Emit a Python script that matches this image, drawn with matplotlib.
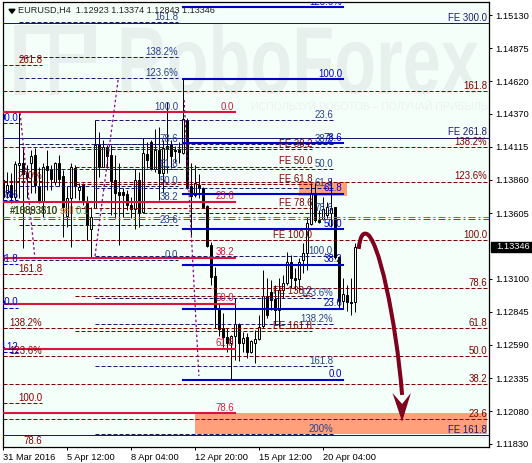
"""EURUSD H4 chart with Fibonacci levels, redrawn with matplotlib."""

import matplotlib

matplotlib.use("Agg")

import matplotlib.pyplot as plt
from matplotlib.font_manager import FontProperties
from matplotlib.patches import PathPatch, Polygon, Rectangle
from matplotlib.path import Path
from matplotlib.textpath import TextPath
from matplotlib.transforms import Affine2D, IdentityTransform


TITLE = "EURUSD,H4  1.12923 1.13374 1.12843 1.13346"

OPENS = [
    1.13860, 1.13767, 1.13821, 1.13729, 1.13975, 1.13991, 1.13914, 1.13991, 1.14052, 1.13814,
    1.13691, 1.13967, 1.13944, 1.13844, 1.13991, 1.13891, 1.13583, 1.13721, 1.13952, 1.13783,
    1.13821, 1.13698, 1.13483, 1.13644, 1.14137, 1.13960, 1.14106, 1.14052, 1.13860, 1.13767,
    1.13767, 1.13752, 1.13667, 1.13637, 1.13860, 1.13614, 1.14060, 1.14152, 1.13944, 1.14091,
    1.13914, 1.14106, 1.14129, 1.14091, 1.14091, 1.14068, 1.14322, 1.13814, 1.13744, 1.13821,
    1.13798, 1.13660, 1.13359, 1.13121, 1.12867, 1.12720, 1.12651, 1.12605, 1.12659, 1.12751,
    1.12605, 1.12651, 1.12536, 1.12605, 1.12636, 1.12736, 1.12967, 1.12998, 1.12944, 1.12859,
    1.13013, 1.13067, 1.13229, 1.13105, 1.13098, 1.13244, 1.13298, 1.13521, 1.13760, 1.13552,
    1.13560, 1.13590, 1.13606, 1.13652, 1.13267, 1.12928, 1.12975, 1.12921, 1.12923,
]
HIGHS = [
    1.13937, 1.13921, 1.13914, 1.14006, 1.14376, 1.14114, 1.13975, 1.14091, 1.14106, 1.13960,
    1.13991, 1.14091, 1.13975, 1.13998, 1.14052, 1.13937, 1.13814, 1.13991, 1.13975, 1.13837,
    1.13837, 1.13737, 1.13652, 1.14322, 1.14229, 1.14168, 1.14129, 1.14129, 1.14052, 1.13991,
    1.13798, 1.13783, 1.13729, 1.13944, 1.13921, 1.14183, 1.14152, 1.14168, 1.14252, 1.14268,
    1.14168, 1.14460, 1.14168, 1.14122, 1.14152, 1.14637, 1.14337, 1.13991, 1.13975, 1.13906,
    1.13806, 1.13667, 1.13383, 1.13190, 1.12913, 1.12836, 1.12720, 1.12667, 1.12952, 1.12759,
    1.12690, 1.12682, 1.12628, 1.12705, 1.12821, 1.13167, 1.13105, 1.13090, 1.13052, 1.13105,
    1.13128, 1.13306, 1.13283, 1.13182, 1.13259, 1.13375, 1.13575, 1.13837, 1.13837, 1.13629,
    1.13729, 1.13691, 1.13875, 1.13652, 1.13275, 1.13105, 1.13052, 1.13105, 1.13374,
]
LOWS = [
    1.13706, 1.13721, 1.13683, 1.13706, 1.13721, 1.13336, 1.13721, 1.13760, 1.13760, 1.13683,
    1.13575, 1.13783, 1.13783, 1.13821, 1.13814, 1.13421, 1.13498, 1.13344, 1.13721, 1.13706,
    1.13667, 1.13398, 1.13259, 1.13644, 1.13883, 1.13960, 1.13952, 1.13590, 1.13567, 1.13359,
    1.13575, 1.13629, 1.13567, 1.13483, 1.13498, 1.13606, 1.13952, 1.13937, 1.13921, 1.13706,
    1.13760, 1.13914, 1.13952, 1.13991, 1.13991, 1.14060, 1.13791, 1.13421, 1.13729, 1.13721,
    1.13644, 1.13344, 1.13052, 1.12720, 1.12659, 1.12574, 1.12536, 1.12320, 1.12474, 1.12466,
    1.12536, 1.12490, 1.12528, 1.12451, 1.12628, 1.12720, 1.12797, 1.12859, 1.12743, 1.12728,
    1.12952, 1.13052, 1.13028, 1.13013, 1.13013, 1.13144, 1.13167, 1.13513, 1.13537, 1.13529,
    1.13552, 1.13567, 1.13498, 1.13252, 1.12874, 1.12874, 1.12851, 1.12821, 1.12843,
]
CLOSES = [
    1.13729, 1.13821, 1.13729, 1.13983, 1.13991, 1.13906, 1.13883, 1.14045, 1.13821, 1.13691,
    1.13960, 1.13937, 1.13868, 1.13991, 1.13868, 1.13652, 1.13721, 1.13960, 1.13814, 1.13806,
    1.13706, 1.13513, 1.13575, 1.14129, 1.13960, 1.14114, 1.14045, 1.13852, 1.13760, 1.13744,
    1.13744, 1.13667, 1.13637, 1.13860, 1.13614, 1.14068, 1.14014, 1.13944, 1.14091, 1.13914,
    1.14106, 1.14122, 1.14045, 1.14083, 1.14075, 1.14329, 1.13806, 1.13737, 1.13837, 1.13798,
    1.13652, 1.13352, 1.13113, 1.12867, 1.12713, 1.12651, 1.12605, 1.12659, 1.12751, 1.12605,
    1.12644, 1.12536, 1.12620, 1.12636, 1.12728, 1.12967, 1.12821, 1.12936, 1.12859, 1.13013,
    1.13067, 1.13229, 1.13105, 1.13090, 1.13229, 1.13298, 1.13529, 1.13752, 1.13552, 1.13537,
    1.13637, 1.13652, 1.13644, 1.13267, 1.12928, 1.12982, 1.12921, 1.12913, 1.13346,
]

PRICE_TICKS = [
    1.15130, 1.14875, 1.14620, 1.14370, 1.14115, 1.13860, 1.13605,
    1.13100, 1.12845, 1.12590, 1.12335, 1.12080, 1.11830,
]
LAST_PRICE = 1.13346
DATE_TICKS = [0, 16, 32, 48, 64, 80]
DATE_LABELS = ["31 Mar 2016", "5 Apr 12:00", "8 Apr 04:00", "12 Apr 20:00", "15 Apr 12:00", "20 Apr 04:00"]

FE_WIDE_PRICES = [1.15065, 1.14187, 1.11897]
FE_WIDE_LABELS = ["FE 300.0", "FE 261.8", "FE 161.8"]

BLUE_PRICES = [1.15188, 1.14637, 1.14145, 1.13754, 1.13483, 1.13208, 1.12869, 1.12323]
BLUE_LABELS = ["123.6%", "100.0", "78.6", "61.8", "50.0", "38.2", "23.6", "0.0"]

CRIMSON_PRICES = [1.14383, 1.13693, 1.13262, 1.12908, 1.12561, 1.12066]
CRIMSON_LABELS = ["0.0", "23.6", "38.2", "50.0", "61.8", "78.6"]

RED_WIDE_PRICES = [1.14543, 1.14114, 1.13847, 1.13398, 1.13026, 1.12718, 1.12503, 1.12287, 1.12018]
RED_WIDE_LABELS = ["161.8", "138.2%", "123.6%", "100.0", "78.6", "61.8", "50.0", "38.2", "23.6"]

RED_LEFT_PRICES = [1.14745, 1.13852, 1.13134, 1.12721, 1.12503, 1.12143, 1.11807]
RED_LEFT_LABELS = ["261.8", "200%", "161.8", "138.2%", "123.6%", "100.0", "78.6"]

FE_PRICES = [1.14098, 1.13962, 1.13827, 1.13642, 1.13398, 1.12965, 1.12695]
FE_LABELS = ["FE 38.2", "FE 50.0", "FE 61.8", "FE 78.6", "FE 100.0", "FE 138.2", "FE 161.8"]

NAVY_MID_PRICES = [1.14319, 1.14137, 1.13945, 1.13796, 1.13606, 1.13272, 1.12949, 1.12749, 1.12426, 1.11902]
NAVY_MID_LABELS = ["23.6", "38.2", "50.0", "61.8", "78.6", "100.0", "123.6%", "138.2%", "161.8", "200%"]

NAVY_LEFT_PRICES = [1.15074, 1.14804, 1.14643, 1.14383, 1.14135, 1.13945, 1.13814, 1.13690, 1.13513, 1.13242]
NAVY_LEFT_LABELS = ["161.8", "138.2%", "123.6%", "100.0", "78.6", "61.8", "50.0", "38.2", "23.6", "0.0"]

BLUE_LEFT_PRICES = [1.14298, 1.13706, 1.13213, 1.12876, 1.12536]
BLUE_LEFT_LABELS = ["00.0", "8%", "31.8", "50.0", "4.12"]

ORDER_SELL_PRICE = 1.13572
ORDER_BUY_PRICE = 1.13559

ZONE_UPPER = (74, 86, 1.13841, 1.13734)
ZONE_LOWER = (48, 121, 1.12066, 1.11904)

WAVE_BARS = [[4.2, 7.9], [28.7, 22.9], [45.2, 48.9]]
WAVE_PRICES = [[1.14376, 1.13259], [1.14630, 1.13267], [1.14476, 1.12351]]

# start, two control points, top of the curve, two control points, end
ARROW_BARS = [88.85, 89.2, 89.9, 90.7, 93.7, 98.2, 99.7]
ARROW_PRICES = [1.13329, 1.13429, 1.13452, 1.13446, 1.13429, 1.12782, 1.12205]
HEAD_BARS = [99.7, 97.3, 99.7, 101.9]
HEAD_PRICES = [1.11999, 1.12220, 1.12135, 1.12220]

WIDTH, HEIGHT = 532, 463
FONT = "Liberation Sans"
NAVY = "#191970"
DARK_RED = "#800000"
BLUE = "#0000CD"
CRIMSON = "#DC143C"
SALMON = "#FFA07A"
LABEL_BLUE = "#27408B"
MAROON = "#80001E"

plt.rcParams["font.family"] = FONT
plt.rcParams["font.size"] = 6.7


def draw_levels(ax, prices, labels, start, end, color, width, label_color, dashed=True, label_end=None):
    """Draw a group of horizontal levels with the label above the line's right end."""
    style = (0, (4, 2)) if dashed else "-"
    for price, label in zip(prices, labels):
        ax.plot([start, end], [price, price], color=color, linewidth=width, linestyle=style, zorder=4)
        ax.text(
            end if label_end is None else label_end,
            price + 0.00003,
            label,
            color=label_color,
            ha="right",
            va="bottom",
            fontsize=6.9,
            zorder=6,
            clip_on=True,
        )


def draw_candles(ax):
    """Draw wicks and bodies, white for rising bars and black for falling ones."""
    for i, (o, h, l, c) in enumerate(zip(OPENS, HIGHS, LOWS, CLOSES)):
        ax.plot([i, i], [l, h], color="black", linewidth=0.72, zorder=2, solid_capstyle="butt")
        fill = "white" if c >= o else "black"
        ax.bar(i, abs(c - o), bottom=min(o, c), width=0.5, color=fill, edgecolor="black", linewidth=0.72, zorder=3)


def draw_watermark(ax, fig):
    """Faint logo and brand text behind the chart."""
    grey = "#E8F0EE"
    prop = FontProperties(family=FONT, weight="bold")
    path = TextPath((0, 0), "RoboForex", size=1, prop=prop)
    trans = Affine2D().scale(68.6, 95).translate(117, HEIGHT - 93) + IdentityTransform()
    ax.add_patch(PathPatch(path, facecolor=grey, edgecolor="none", transform=trans, zorder=0.5))
    for x, y, w, h in [(14, 25, 12, 70), (14, 25, 80, 9), (84, 25, 12, 38), (50, 54, 40, 9), (50, 34, 9, 61)]:
        ax.add_patch(Rectangle((x, HEIGHT - y - h), w, h, facecolor=grey, edgecolor="none",
                               transform=IdentityTransform(), zorder=0.5))
    ax.text(488 / WIDTH, 1 - 107 / HEIGHT, "ИСПОЛЬЗУЙ РОБОТОВ – ПОЛУЧАЙ ПРИБЫЛЬ", color="#EAF1EF",
            ha="right", va="center", fontsize=7.6, zorder=0.5, transform=fig.transFigure)


def draw_arrow(ax):
    """Curved forecast arrow with its head."""
    points = list(zip(ARROW_BARS, ARROW_PRICES))
    codes = [Path.MOVETO] + [Path.CURVE4] * 6
    ax.add_patch(PathPatch(Path(points, codes), facecolor="none", edgecolor=MAROON, linewidth=2.9,
                           capstyle="butt", zorder=7))
    ax.add_patch(Polygon(list(zip(HEAD_BARS, HEAD_PRICES)), closed=True, color=MAROON, linewidth=0, zorder=7))


def main():
    fig = plt.figure(figsize=(WIDTH / 100, HEIGHT / 100), dpi=100, facecolor="white")
    ax = fig.add_axes([3 / WIDTH, 1 - 447 / HEIGHT, 486.3 / WIDTH, 444.7 / HEIGHT])
    ax.set_facecolor("#F5FFFA")
    ax.set_xlim(-0.075, 121.5)
    ax.set_ylim(1.11804, 1.15228)

    draw_watermark(ax, fig)

    for left, right, top, bottom in [ZONE_UPPER, ZONE_LOWER]:
        ax.add_patch(Rectangle((left, bottom), right - left, top - bottom, color=SALMON, linewidth=0, zorder=1))

    draw_candles(ax)

    draw_levels(ax, FE_WIDE_PRICES, FE_WIDE_LABELS, 0, 121.5, NAVY, 0.72, NAVY, dashed=False, label_end=121)
    draw_levels(ax, RED_WIDE_PRICES, RED_WIDE_LABELS, 0, 121, DARK_RED, 0.72, DARK_RED)
    draw_levels(ax, RED_LEFT_PRICES, RED_LEFT_LABELS, 0, 9.7, DARK_RED, 0.72, DARK_RED)
    draw_levels(ax, FE_PRICES, FE_LABELS, 17.9, 77.2, DARK_RED, 0.72, DARK_RED)
    draw_levels(ax, NAVY_MID_PRICES, NAVY_MID_LABELS, 22.9, 82.4, NAVY, 0.72, LABEL_BLUE)
    draw_levels(ax, NAVY_LEFT_PRICES, NAVY_LEFT_LABELS, 3.9, 43.7, NAVY, 0.72, LABEL_BLUE)
    draw_levels(ax, BLUE_LEFT_PRICES, BLUE_LEFT_LABELS, 0, 3.7, BLUE, 0.72, BLUE)
    draw_levels(ax, BLUE_PRICES, BLUE_LABELS, 44.9, 84.9, BLUE, 1.5, BLUE, dashed=False, label_end=84.7)
    draw_levels(ax, CRIMSON_PRICES, CRIMSON_LABELS, 0, 57.9, CRIMSON, 1.5, CRIMSON, dashed=False, label_end=57.7)

    ax.axhline(ORDER_SELL_PRICE, color="#FF4500", linewidth=0.72, linestyle=(0, (7, 3, 2, 3)), zorder=4)
    ax.axhline(ORDER_BUY_PRICE, color="#008000", linewidth=0.72, linestyle=(0, (7, 3, 2, 3)), zorder=4)
    for text, color in [("#10893510", "#5A3A10"), ("#18883810", "#2A4A10")]:
        ax.text(1.7, ORDER_SELL_PRICE + 0.00012, text, color=color, fontsize=6.9, va="bottom", zorder=6)
    ax.text(14.2, ORDER_SELL_PRICE + 0.00012, "sell", color="#D2691E", fontsize=6.9, va="bottom", zorder=6)
    ax.text(18, ORDER_SELL_PRICE + 0.00012, "0.1", color="#2E8B2E", fontsize=6.9, va="bottom", zorder=6)

    for bars, prices in zip(WAVE_BARS, WAVE_PRICES):
        ax.plot(bars, prices, color="#8B008B", linewidth=0.9, linestyle=(0, (2, 2)), zorder=5)

    draw_arrow(ax)

    ax.yaxis.tick_right()
    ax.set_yticks(PRICE_TICKS, [f"{p:.5f}" for p in PRICE_TICKS])
    ax.set_xticks(DATE_TICKS, DATE_LABELS, ha="left")
    ax.tick_params(axis="both", length=2.5, width=0.72, color="black", labelsize=6.7, pad=2)
    ax.tick_params(axis="y", pad=2)
    for spine in ax.spines.values():
        spine.set_linewidth(0.9)

    ax.add_patch(Rectangle((1.004, LAST_PRICE - 0.00040), 0.1, 0.00080, color="black", clip_on=False,
                           transform=ax.get_yaxis_transform(), zorder=8))
    ax.text(1.0145, LAST_PRICE, f"{LAST_PRICE:.5f}", color="white", va="center", ha="left", fontsize=6.7,
            transform=ax.get_yaxis_transform(), zorder=9)

    ax.add_patch(Polygon([(6 / 486.3, 1 - 7 / 444.7), (12 / 486.3, 1 - 7 / 444.7), (9 / 486.3, 1 - 11 / 444.7)],
                         closed=True, color="black", transform=ax.transAxes, zorder=8))
    ax.text(15 / 486.3, 1 - 8.5 / 444.7, TITLE, color="#222222", va="center", ha="left", fontsize=6.6,
            transform=ax.transAxes, zorder=8)

    fig.savefig("out.png", dpi=100, facecolor="white")


if __name__ == "__main__":
    main()
